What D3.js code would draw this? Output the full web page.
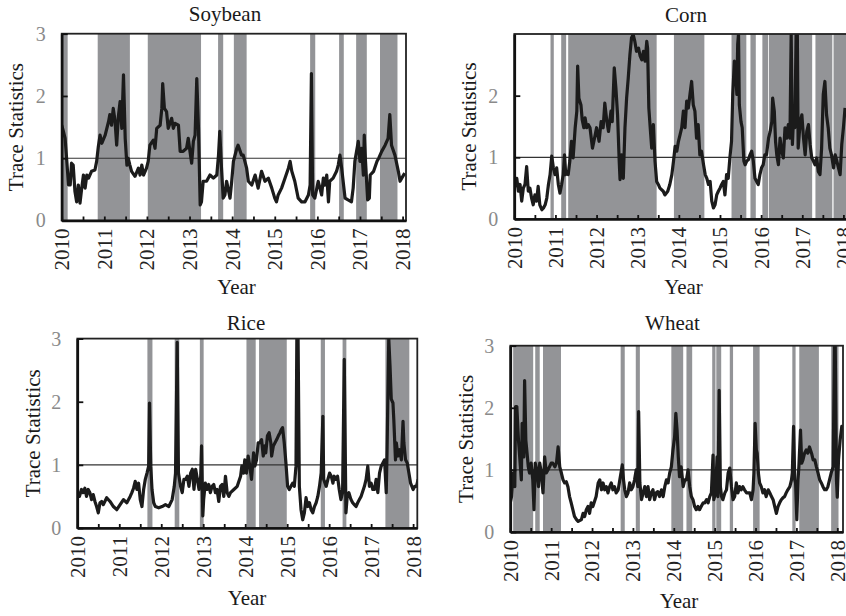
<!DOCTYPE html>
<html>
<head>
<meta charset="utf-8">
<script src="https://cdn.jsdelivr.net/npm/d3@7"></script>
<style>
  body { margin: 0; background: #fff; }
  svg { display: block; font-family: "Liberation Serif", "Times New Roman", serif; }
</style>
</head>
<body>
<div id="chart"></div>
<script>
// Trace statistics: [decimal year, value]
const soybeanTrace = [[2010.00,1.53],[2010.04,1.43],[2010.08,1.32],[2010.12,0.95],[2010.16,0.57],[2010.20,0.57],[2010.23,0.92],[2010.27,0.89],[2010.31,0.47],[2010.35,0.30],[2010.39,0.57],[2010.43,0.28],[2010.47,0.52],[2010.51,0.73],[2010.55,0.52],[2010.59,0.73],[2010.63,0.68],[2010.70,0.79],[2010.78,0.81],[2010.82,0.95],[2010.86,1.19],[2010.90,1.37],[2010.94,1.24],[2011.02,1.37],[2011.10,1.59],[2011.13,1.70],[2011.17,1.53],[2011.21,1.80],[2011.25,1.61],[2011.29,1.21],[2011.33,1.67],[2011.37,1.91],[2011.41,1.48],[2011.45,2.34],[2011.49,1.32],[2011.53,0.89],[2011.56,1.00],[2011.60,0.89],[2011.64,0.79],[2011.72,0.71],[2011.80,0.84],[2011.84,0.73],[2011.88,0.89],[2011.92,0.73],[2011.99,0.84],[2012.03,0.95],[2012.07,1.21],[2012.15,1.29],[2012.19,1.16],[2012.23,1.48],[2012.31,1.53],[2012.35,1.80],[2012.37,2.20],[2012.41,1.80],[2012.46,1.75],[2012.50,1.48],[2012.58,1.64],[2012.62,1.48],[2012.66,1.56],[2012.74,1.53],[2012.78,1.11],[2012.85,1.11],[2012.93,1.16],[2012.97,1.32],[2013.01,1.11],[2013.05,0.92],[2013.09,1.27],[2013.13,1.37],[2013.17,2.28],[2013.21,1.48],[2013.25,0.25],[2013.28,0.30],[2013.32,0.63],[2013.40,0.63],[2013.48,0.73],[2013.56,0.68],[2013.64,0.73],[2013.68,1.05],[2013.71,1.43],[2013.75,0.84],[2013.79,0.36],[2013.83,0.41],[2013.87,0.63],[2013.95,0.36],[2013.99,0.63],[2014.03,0.95],[2014.11,1.16],[2014.14,1.21],[2014.22,1.05],[2014.26,1.05],[2014.34,0.84],[2014.38,0.63],[2014.46,0.57],[2014.54,0.73],[2014.61,0.52],[2014.69,0.79],[2014.77,0.63],[2014.85,0.68],[2014.93,0.52],[2015.00,0.36],[2015.04,0.30],[2015.08,0.41],[2015.16,0.52],[2015.24,0.68],[2015.32,0.84],[2015.36,0.95],[2015.40,0.79],[2015.47,0.63],[2015.55,0.36],[2015.63,0.30],[2015.71,0.30],[2015.79,0.41],[2015.83,0.57],[2015.86,2.36],[2015.89,0.41],[2015.94,0.36],[2016.02,0.63],[2016.10,0.41],[2016.14,0.68],[2016.18,0.57],[2016.22,0.73],[2016.26,0.30],[2016.29,0.63],[2016.37,0.68],[2016.45,0.79],[2016.49,0.89],[2016.53,1.05],[2016.57,0.84],[2016.65,0.36],[2016.72,0.33],[2016.80,0.30],[2016.84,0.52],[2016.88,0.95],[2016.92,1.11],[2016.96,1.27],[2017.00,0.95],[2017.04,1.16],[2017.08,0.73],[2017.10,1.37],[2017.13,0.95],[2017.18,0.33],[2017.22,0.36],[2017.24,0.73],[2017.32,0.79],[2017.40,0.95],[2017.44,1.00],[2017.51,1.11],[2017.59,1.21],[2017.66,1.32],[2017.70,1.70],[2017.74,1.21],[2017.82,1.05],[2017.90,0.79],[2017.94,0.63],[2017.98,0.68],[2018.05,0.76]];

const cornTrace = [[2010.00,0.50],[2010.06,0.66],[2010.10,0.45],[2010.14,0.56],[2010.18,0.29],[2010.22,0.50],[2010.26,0.56],[2010.30,0.85],[2010.34,0.45],[2010.38,0.50],[2010.42,0.34],[2010.46,0.23],[2010.50,0.39],[2010.54,0.29],[2010.58,0.53],[2010.62,0.23],[2010.67,0.15],[2010.71,0.18],[2010.75,0.23],[2010.79,0.34],[2010.83,0.56],[2010.87,0.72],[2010.91,1.02],[2010.95,0.83],[2010.99,0.72],[2011.03,0.83],[2011.07,0.56],[2011.11,0.42],[2011.15,0.56],[2011.19,0.72],[2011.22,1.04],[2011.25,0.72],[2011.27,0.77],[2011.31,0.72],[2011.35,0.94],[2011.39,1.26],[2011.43,0.99],[2011.48,1.48],[2011.52,1.75],[2011.54,2.48],[2011.57,1.96],[2011.62,1.85],[2011.65,1.61],[2011.69,1.48],[2011.72,1.64],[2011.76,1.48],[2011.80,1.53],[2011.84,1.48],[2011.90,1.15],[2011.95,1.31],[2012.00,1.48],[2012.06,1.26],[2012.11,1.58],[2012.16,1.48],[2012.20,1.88],[2012.25,1.58],[2012.29,1.42],[2012.35,1.75],[2012.38,1.58],[2012.43,2.45],[2012.47,2.12],[2012.51,1.69],[2012.55,0.94],[2012.57,0.64],[2012.61,1.04],[2012.65,0.66],[2012.69,1.48],[2012.73,1.96],[2012.77,2.29],[2012.81,2.66],[2012.85,2.94],[2012.89,2.99],[2012.93,2.88],[2012.97,2.72],[2013.02,2.77],[2013.06,2.64],[2013.10,2.58],[2013.14,2.72],[2013.18,2.56],[2013.22,2.88],[2013.24,2.77],[2013.27,1.80],[2013.31,1.42],[2013.34,1.15],[2013.38,1.53],[2013.42,0.94],[2013.46,0.61],[2013.50,0.56],[2013.54,0.50],[2013.62,0.45],[2013.66,0.39],[2013.73,0.45],[2013.78,0.56],[2013.83,0.72],[2013.87,0.94],[2013.91,1.18],[2013.95,1.10],[2013.99,1.26],[2014.03,1.37],[2014.07,1.48],[2014.11,1.75],[2014.15,1.48],[2014.19,1.91],[2014.23,1.80],[2014.27,2.02],[2014.31,2.23],[2014.35,1.85],[2014.39,1.75],[2014.43,1.31],[2014.47,1.53],[2014.51,1.04],[2014.55,1.10],[2014.60,0.88],[2014.64,0.72],[2014.68,0.66],[2014.72,0.56],[2014.76,0.61],[2014.80,0.29],[2014.84,0.18],[2014.88,0.23],[2014.92,0.39],[2014.96,0.45],[2015.00,0.50],[2015.04,0.56],[2015.08,0.61],[2015.12,0.39],[2015.16,0.72],[2015.20,0.66],[2015.24,0.99],[2015.28,1.26],[2015.31,2.02],[2015.35,2.56],[2015.38,2.40],[2015.41,2.02],[2015.43,2.83],[2015.45,3.00],[2015.47,1.85],[2015.51,1.58],[2015.54,1.48],[2015.58,0.94],[2015.61,0.88],[2015.65,0.94],[2015.69,0.96],[2015.73,1.04],[2015.77,1.10],[2015.81,0.94],[2015.85,0.66],[2015.89,0.61],[2015.93,0.56],[2015.97,0.72],[2016.01,0.83],[2016.05,0.88],[2016.09,1.04],[2016.13,1.04],[2016.18,1.31],[2016.22,1.42],[2016.26,1.58],[2016.28,1.96],[2016.32,1.75],[2016.35,1.26],[2016.38,1.04],[2016.42,0.88],[2016.46,1.31],[2016.50,1.10],[2016.54,0.99],[2016.58,1.48],[2016.62,1.31],[2016.66,1.53],[2016.70,1.31],[2016.73,3.00],[2016.76,1.21],[2016.79,1.69],[2016.82,1.48],[2016.85,3.00],[2016.88,3.00],[2016.90,1.15],[2016.95,1.58],[2016.99,1.69],[2017.03,1.31],[2017.07,1.04],[2017.11,1.42],[2017.15,1.53],[2017.19,1.21],[2017.23,0.99],[2017.27,0.94],[2017.31,0.88],[2017.35,0.99],[2017.39,0.77],[2017.43,0.72],[2017.47,1.15],[2017.51,2.02],[2017.55,2.23],[2017.59,1.69],[2017.63,1.48],[2017.67,1.15],[2017.71,1.04],[2017.76,0.83],[2017.80,1.04],[2017.84,0.94],[2017.88,0.83],[2017.92,0.72],[2017.96,1.21],[2018.00,1.48],[2018.04,1.80]];

const riceTrace = [[2010.00,0.58],[2010.05,0.50],[2010.10,0.61],[2010.14,0.56],[2010.18,0.63],[2010.22,0.50],[2010.26,0.61],[2010.30,0.56],[2010.34,0.45],[2010.38,0.53],[2010.42,0.42],[2010.46,0.34],[2010.50,0.24],[2010.54,0.40],[2010.58,0.42],[2010.62,0.37],[2010.70,0.48],[2010.78,0.42],[2010.86,0.34],[2010.94,0.29],[2011.02,0.37],[2011.10,0.45],[2011.18,0.40],[2011.26,0.50],[2011.30,0.56],[2011.34,0.63],[2011.38,0.74],[2011.42,0.61],[2011.46,0.71],[2011.50,0.45],[2011.54,0.34],[2011.58,0.61],[2011.62,0.77],[2011.66,0.87],[2011.70,0.98],[2011.72,1.98],[2011.75,0.98],[2011.78,0.61],[2011.82,0.40],[2011.86,0.34],[2011.94,0.32],[2012.02,0.34],[2012.10,0.37],[2012.18,0.34],[2012.26,0.45],[2012.31,0.66],[2012.34,0.87],[2012.38,2.94],[2012.41,0.87],[2012.46,0.66],[2012.50,0.56],[2012.54,0.77],[2012.58,0.77],[2012.62,0.82],[2012.66,0.66],[2012.70,0.87],[2012.74,0.93],[2012.78,0.61],[2012.82,0.93],[2012.86,0.77],[2012.90,0.61],[2012.94,0.82],[2012.96,1.30],[2012.99,0.19],[2013.01,0.45],[2013.05,0.71],[2013.09,0.61],[2013.13,0.69],[2013.17,0.56],[2013.21,0.66],[2013.25,0.69],[2013.29,0.56],[2013.33,0.61],[2013.37,0.42],[2013.41,0.66],[2013.45,0.69],[2013.49,0.50],[2013.53,0.82],[2013.57,0.56],[2013.61,0.50],[2013.65,0.56],[2013.73,0.61],[2013.81,0.66],[2013.89,0.82],[2013.92,0.98],[2013.96,0.87],[2013.99,1.08],[2014.03,0.87],[2014.07,1.14],[2014.11,0.98],[2014.15,0.77],[2014.20,1.19],[2014.23,0.98],[2014.27,1.08],[2014.31,1.35],[2014.35,1.35],[2014.39,1.40],[2014.43,1.14],[2014.47,1.30],[2014.49,1.19],[2014.53,1.46],[2014.57,1.51],[2014.61,1.35],[2014.63,1.14],[2014.67,1.30],[2014.71,1.35],[2014.75,1.40],[2014.79,1.46],[2014.83,1.51],[2014.86,1.56],[2014.89,1.59],[2014.93,1.35],[2014.97,1.03],[2015.01,0.66],[2015.05,0.61],[2015.09,0.66],[2015.13,0.71],[2015.17,0.66],[2015.21,0.98],[2015.23,3.00],[2015.26,3.00],[2015.29,0.66],[2015.33,0.29],[2015.37,0.13],[2015.41,0.24],[2015.45,0.48],[2015.49,0.34],[2015.53,0.40],[2015.57,0.29],[2015.61,0.24],[2015.65,0.34],[2015.69,0.40],[2015.73,0.50],[2015.77,0.66],[2015.81,0.87],[2015.85,1.77],[2015.87,0.77],[2015.93,0.66],[2015.97,0.77],[2016.01,0.87],[2016.05,0.82],[2016.09,0.71],[2016.12,0.82],[2016.16,0.77],[2016.20,0.82],[2016.24,0.61],[2016.28,0.45],[2016.32,0.56],[2016.36,2.67],[2016.40,0.24],[2016.43,0.50],[2016.47,0.56],[2016.52,0.45],[2016.56,0.40],[2016.60,0.37],[2016.64,0.34],[2016.68,0.40],[2016.72,0.45],[2016.76,0.50],[2016.84,0.66],[2016.88,0.77],[2016.92,0.98],[2016.96,0.66],[2017.00,0.71],[2017.04,0.61],[2017.08,0.61],[2017.12,0.77],[2017.16,0.56],[2017.20,0.87],[2017.24,0.98],[2017.28,1.03],[2017.32,1.08],[2017.36,0.56],[2017.38,1.24],[2017.42,3.00],[2017.45,2.57],[2017.48,2.04],[2017.52,1.98],[2017.54,1.72],[2017.58,1.08],[2017.60,1.35],[2017.64,1.14],[2017.68,1.24],[2017.72,1.08],[2017.76,1.69],[2017.78,1.35],[2017.82,1.08],[2017.86,1.03],[2017.90,0.87],[2017.94,0.71],[2018.00,0.61],[2018.04,0.66],[2018.08,0.66],[2018.12,0.77]];

const wheatTrace = [[2010.00,0.47],[2010.03,0.57],[2010.07,0.95],[2010.11,0.73],[2010.13,2.02],[2010.16,2.02],[2010.20,1.48],[2010.23,1.21],[2010.27,0.84],[2010.29,1.75],[2010.33,1.21],[2010.35,2.44],[2010.38,1.48],[2010.41,1.27],[2010.44,1.05],[2010.47,0.95],[2010.51,1.11],[2010.55,0.84],[2010.58,0.36],[2010.61,1.11],[2010.65,1.00],[2010.69,0.73],[2010.72,1.11],[2010.76,0.95],[2010.80,0.63],[2010.84,1.21],[2010.88,0.95],[2010.92,1.00],[2010.96,1.05],[2011.00,1.11],[2011.04,1.11],[2011.09,1.05],[2011.13,1.11],[2011.17,1.37],[2011.21,1.05],[2011.25,0.95],[2011.29,0.84],[2011.33,0.79],[2011.37,0.81],[2011.41,0.73],[2011.45,0.57],[2011.49,0.47],[2011.53,0.36],[2011.57,0.25],[2011.62,0.20],[2011.66,0.17],[2011.74,0.20],[2011.78,0.30],[2011.82,0.25],[2011.86,0.36],[2011.90,0.41],[2011.94,0.30],[2011.98,0.47],[2012.02,0.41],[2012.10,0.57],[2012.15,0.79],[2012.19,0.84],[2012.23,0.68],[2012.27,0.79],[2012.31,0.68],[2012.35,0.73],[2012.39,0.63],[2012.43,0.73],[2012.47,0.79],[2012.51,0.68],[2012.55,0.73],[2012.59,0.63],[2012.64,0.68],[2012.68,0.84],[2012.72,1.00],[2012.74,1.08],[2012.77,0.84],[2012.80,0.68],[2012.84,0.57],[2012.88,0.63],[2012.92,0.79],[2012.96,0.68],[2013.00,0.73],[2013.04,0.84],[2013.08,1.00],[2013.12,0.73],[2013.14,1.94],[2013.17,0.79],[2013.21,0.52],[2013.25,0.63],[2013.29,0.73],[2013.33,0.57],[2013.37,0.73],[2013.41,0.52],[2013.45,0.63],[2013.49,0.68],[2013.53,0.52],[2013.57,0.63],[2013.61,0.65],[2013.65,0.57],[2013.70,0.68],[2013.74,0.57],[2013.78,0.73],[2013.82,0.84],[2013.86,0.79],[2013.90,0.95],[2013.94,1.05],[2013.98,1.32],[2014.02,1.53],[2014.05,1.91],[2014.08,1.64],[2014.11,1.21],[2014.14,0.89],[2014.18,1.05],[2014.23,0.73],[2014.27,0.84],[2014.31,0.84],[2014.35,1.00],[2014.39,0.73],[2014.43,0.57],[2014.47,0.52],[2014.51,0.41],[2014.55,0.36],[2014.59,0.41],[2014.63,0.36],[2014.67,0.41],[2014.72,0.47],[2014.76,0.47],[2014.80,0.52],[2014.84,0.47],[2014.88,0.57],[2014.92,0.63],[2014.96,1.24],[2014.98,0.52],[2015.02,0.63],[2015.06,1.21],[2015.08,0.57],[2015.11,2.28],[2015.14,0.73],[2015.17,0.57],[2015.20,0.52],[2015.25,0.63],[2015.29,0.68],[2015.33,0.95],[2015.37,1.03],[2015.41,0.73],[2015.45,0.52],[2015.49,0.57],[2015.53,0.79],[2015.57,0.63],[2015.61,0.73],[2015.65,0.68],[2015.69,0.73],[2015.73,0.68],[2015.78,0.63],[2015.86,0.63],[2015.90,0.52],[2015.94,0.68],[2015.96,0.95],[2015.99,1.75],[2016.02,1.32],[2016.04,1.27],[2016.07,0.95],[2016.10,0.79],[2016.14,0.73],[2016.18,0.63],[2016.22,0.68],[2016.26,0.57],[2016.31,0.68],[2016.35,0.63],[2016.39,0.57],[2016.43,0.52],[2016.47,0.41],[2016.51,0.30],[2016.55,0.41],[2016.59,0.47],[2016.63,0.52],[2016.67,0.55],[2016.71,0.57],[2016.75,0.63],[2016.79,0.68],[2016.84,0.73],[2016.88,0.84],[2016.90,0.95],[2016.93,1.70],[2016.96,0.84],[2016.98,0.79],[2017.01,0.20],[2017.04,0.84],[2017.06,1.05],[2017.10,1.64],[2017.13,1.11],[2017.16,1.16],[2017.20,1.27],[2017.24,1.32],[2017.28,1.27],[2017.32,1.37],[2017.37,1.27],[2017.41,1.16],[2017.45,1.16],[2017.49,1.05],[2017.53,0.95],[2017.57,0.84],[2017.61,0.79],[2017.65,0.73],[2017.69,0.68],[2017.73,0.68],[2017.77,0.73],[2017.81,0.84],[2017.85,0.95],[2017.90,1.05],[2017.93,3.00],[2017.95,3.00],[2017.98,0.84],[2018.00,0.56],[2018.03,1.16],[2018.07,1.48],[2018.11,1.70],[2018.14,1.67]];

// Shaded regime periods: [start year, end year]
const soybeanRegimes = [[2010.00,2010.14],[2010.845,2011.60],[2012.02,2013.27],[2013.67,2013.79],[2014.04,2014.34],[2015.83,2015.95],[2016.51,2016.62],[2016.91,2017.16],[2017.47,2017.88]];
const cornRegimes = [[2010.88,2010.96],[2011.14,2011.26],[2011.31,2013.46],[2013.88,2014.62],[2015.28,2015.64],[2015.74,2015.87],[2016.03,2016.17],[2016.19,2017.24],[2017.32,2017.73],[2017.76,2018.20]];
const riceRegimes = [[2011.67,2011.79],[2012.32,2012.43],[2012.92,2013.01],[2014.03,2014.25],[2014.33,2014.99],[2015.80,2015.90],[2016.32,2016.41],[2017.34,2017.91]];
const wheatRegimes = [[2010.07,2010.56],[2010.61,2010.72],[2010.80,2011.24],[2012.70,2012.80],[2013.07,2013.17],[2013.94,2014.23],[2014.31,2014.45],[2014.94,2015.02],[2015.04,2015.16],[2015.37,2015.45],[2015.94,2016.10],[2016.90,2016.98],[2017.07,2017.55],[2017.85,2018.03]];

// Axis ticks
const yearTicks = [2010, 2011, 2012, 2013, 2014, 2015, 2016, 2017, 2018];
const halfYearTicks = [2010, 2010.5, 2011, 2011.5, 2012, 2012.5, 2013, 2013.5, 2014, 2014.5, 2015, 2015.5, 2016, 2016.5, 2017, 2017.5, 2018];
const traceTicks = [0, 1, 2, 3];
const cornTraceTicks = [0, 1, 2];
const threshold = 1;

const W = 846, H = 616;
const SHADE = '#939497';
const INK = '#1b1b1b';

/**
 * One panel of trace statistics with shaded regimes
 */
class TracePanel {
    constructor(svg, opts) {
        this.svg = svg;
        this.opts = opts;
        this.x = d3.scaleLinear().domain([2010, opts.xEnd]).range([opts.left, opts.right]);
        this.y = d3.scaleLinear().domain([0, 3]).range([opts.bottom, opts.top]);
    }

    render() {
        const o = this.opts, x = this.x, y = this.y;
        const g = this.svg.append('g');

        const clipId = 'clip-' + o.title.toLowerCase();
        g.append('clipPath').attr('id', clipId)
            .append('rect')
            .attr('x', o.left).attr('y', o.top)
            .attr('width', o.right - o.left).attr('height', o.bottom - o.top);

        const plot = g.append('g').attr('clip-path', `url(#${clipId})`);

        // regime shading
        plot.selectAll('rect.regime')
            .data(o.regimes)
            .join('rect')
            .attr('class', 'regime')
            .attr('x', d => x(d[0]))
            .attr('width', d => Math.max(1, x(d[1]) - x(d[0])))
            .attr('y', o.top)
            .attr('height', o.bottom - o.top)
            .attr('fill', SHADE);

        // reference line at 1
        plot.append('line')
            .attr('x1', o.left).attr('x2', o.right)
            .attr('y1', y(threshold)).attr('y2', y(threshold))
            .attr('stroke', '#333').attr('stroke-width', 1.1);

        // trace statistic
        const line = d3.line().x(d => x(d[0])).y(d => y(d[1]));
        plot.append('path')
            .datum(o.trace)
            .attr('d', line)
            .attr('fill', 'none')
            .attr('stroke', INK)
            .attr('stroke-width', 3.2)
            .attr('stroke-linejoin', 'round');

        // frame
        g.append('rect')
            .attr('x', o.left).attr('y', o.top)
            .attr('width', o.right - o.left).attr('height', o.bottom - o.top)
            .attr('fill', 'none').attr('stroke', '#222').attr('stroke-width', 1.8);

        // x axis, ticks pointing inward, labels rotated
        const xAxis = d3.axisBottom(x)
            .tickValues(halfYearTicks)
            .tickSizeInner(-4)
            .tickSizeOuter(0)
            .tickFormat(d => yearTicks.includes(d) ? String(d) : '');
        const xg = g.append('g')
            .attr('transform', `translate(0,${o.bottom})`)
            .call(xAxis);
        xg.select('.domain').attr('stroke', '#111').attr('stroke-width', 2.6);
        xg.selectAll('.tick line').attr('stroke', '#111').attr('stroke-width', 1.8);
        xg.selectAll('.tick text')
            .attr('transform', 'rotate(-90)')
            .attr('text-anchor', 'end')
            .attr('x', -8).attr('y', 0).attr('dy', '0.33em')
            .attr('fill', '#222')
            .style('font-size', '21px')
            .style('font-family', '"Liberation Serif", serif');

        // y axis
        const yAxis = d3.axisLeft(y)
            .tickValues(o.yTicks)
            .tickSizeInner(-6)
            .tickSizeOuter(0)
            .tickPadding(16)
            .tickFormat(d3.format('d'));
        const yg = g.append('g')
            .attr('transform', `translate(${o.left},0)`)
            .call(yAxis);
        yg.select('.domain').attr('stroke', '#111').attr('stroke-width', 2.6);
        yg.selectAll('.tick line').attr('stroke', '#111').attr('stroke-width', 1.8);
        yg.selectAll('.tick text')
            .attr('fill', '#8a8a8a')
            .style('font-size', '20px')
            .style('font-family', '"Liberation Serif", serif');

        // titles and labels
        g.append('text')
            .attr('x', o.titleX).attr('y', o.titleY)
            .attr('text-anchor', 'middle')
            .attr('fill', '#1a1a1a')
            .style('font-size', '21px')
            .text(o.title);

        g.append('text')
            .attr('x', o.yearX).attr('y', o.yearY)
            .attr('text-anchor', 'middle')
            .attr('fill', '#1a1a1a')
            .style('font-size', '21px')
            .text('Year');

        g.append('text')
            .attr('transform', `translate(${o.labelX},${(o.top + o.bottom) / 2}) rotate(-90)`)
            .attr('text-anchor', 'middle')
            .attr('fill', '#1a1a1a')
            .style('font-size', '21px')
            .text('Trace Statistics');
    }
}

const svg = d3.select('#chart').append('svg')
    .attr('width', W).attr('height', H);
svg.append('rect').attr('width', W).attr('height', H).attr('fill', '#fff');

const panels = [
    { title: 'Soybean', trace: soybeanTrace, regimes: soybeanRegimes, yTicks: traceTicks,
      left: 61.7, right: 406, top: 33.7, bottom: 220.5, xEnd: 2018.08,
      titleX: 225, titleY: 20.5, yearX: 236.5, yearY: 294, labelX: 23 },
    { title: 'Corn', trace: cornTrace, regimes: cornRegimes, yTicks: cornTraceTicks,
      left: 514.3, right: 850, top: 34, bottom: 219, xEnd: 2018.16,
      titleX: 686, titleY: 22, yearX: 683.5, yearY: 294, labelX: 476 },
    { title: 'Rice', trace: riceTrace, regimes: riceRegimes, yTicks: traceTicks,
      left: 77.3, right: 417.3, top: 338.6, bottom: 528, xEnd: 2018.1,
      titleX: 246, titleY: 330, yearX: 247, yearY: 605, labelX: 40 },
    { title: 'Wheat', trace: wheatTrace, regimes: wheatRegimes, yTicks: traceTicks,
      left: 510.3, right: 843, top: 345.7, bottom: 532, xEnd: 2018.14,
      titleX: 672.5, titleY: 329.5, yearX: 679, yearY: 608, labelX: 473 }
];

panels.forEach(p => new TracePanel(svg, p).render());
</script>
</body>
</html>
